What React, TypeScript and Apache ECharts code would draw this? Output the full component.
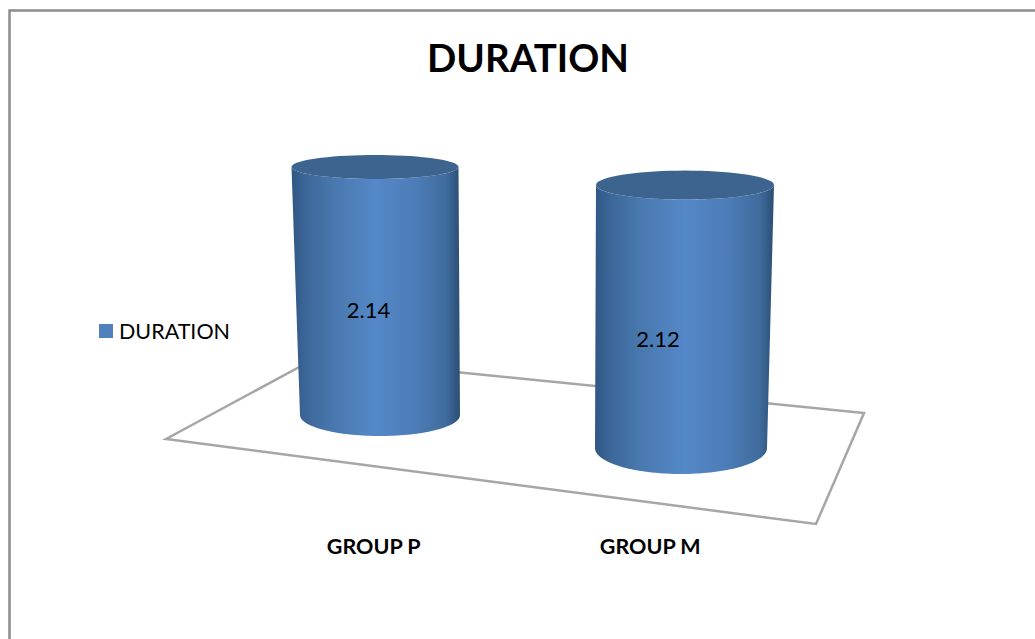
import React, { useEffect, useRef } from "react";
import * as echarts from "echarts";

const categories = ["GROUP P", "GROUP M"];
const durationValues = [2.14, 2.12];
const seriesName = "DURATION";
const chartTitle = "DURATION";

const WIDTH = 1035;
const HEIGHT = 639;
const FONT = "Lato, 'Open Sans', sans-serif";

// Hand-tuned pseudo-3D projection: the floor recedes from the axis labels.
const GROUND_X_SCALE = 301 / 276.5;
const GROUND_X_OFFSET = 6.25;
const GROUND_LIFT = 120;
const GROUND_TILT = 33 / 276.5;
const depthScale = [1, 1.07];
const baseRx = [80, 86];
const baseRy = [21, 26];
const topRx = [83.5, 89];
const topRy = [12, 14.5];
const topShiftX = [-5, 4];
const labelShift = [
  [-9, 19],
  [-25, 22],
];

const floorOutline = [
  [166, 439],
  [316, 358],
  [864, 413],
  [816, 524],
];
const frameOutline = [
  [9.5, 639],
  [9.5, 10.5],
  [1035, 10.5],
];

function ellipsePoints(cx: number, cy: number, rx: number, ry: number, from: number, to: number, n = 72) {
  const pts: number[][] = [];
  for (let k = 0; k <= n; k++) {
    const a = from + ((to - from) * k) / n;
    pts.push([cx + rx * Math.cos(a), cy + ry * Math.sin(a)]);
  }
  return pts;
}

function renderCylinder(params: any, api: any) {
  const i = api.value(0);
  const value = api.value(1);
  const origin = api.coord([0, 0]);
  const zero = api.coord([i, 0]);
  const atValue = api.coord([i, value]);

  const baseX = origin[0] + (zero[0] - origin[0]) * GROUND_X_SCALE + GROUND_X_OFFSET;
  const baseY = zero[1] - GROUND_LIFT + (zero[0] - origin[0]) * GROUND_TILT;
  const topX = baseX + topShiftX[i];
  const topY = baseY - (zero[1] - atValue[1]) * depthScale[i];

  const body = [
    [topX - topRx[i], topY],
    ...ellipsePoints(baseX, baseY, baseRx[i], baseRy[i], Math.PI, 0),
    [topX + topRx[i], topY],
    ...ellipsePoints(topX, topY, topRx[i], topRy[i], 0, Math.PI),
  ];
  const cap = ellipsePoints(topX, topY, topRx[i], topRy[i], 0, Math.PI * 2);

  return {
    type: "group",
    children: [
      {
        type: "polygon",
        shape: { points: body },
        style: {
          fill: new echarts.graphic.LinearGradient(0, 0, 1, 0, [
            { offset: 0, color: "#2f5784" },
            { offset: 0.08, color: "#3c6698" },
            { offset: 0.25, color: "#4878ae" },
            { offset: 0.5, color: "#5588c8" },
            { offset: 0.75, color: "#4c7cb6" },
            { offset: 0.92, color: "#3f6b9d" },
            { offset: 1, color: "#2b4e74" },
          ]),
        },
      },
      {
        type: "polygon",
        shape: { points: cap },
        style: { fill: "#3d648f" },
      },
      {
        type: "text",
        style: {
          text: value.toFixed(2),
          x: (topX + baseX) / 2 + labelShift[i][0],
          y: (topY + baseY) / 2 + labelShift[i][1],
          align: "center",
          verticalAlign: "middle",
          fontFamily: FONT,
          fontSize: 22,
          fill: "#000",
        },
      },
    ],
  };
}

export default function App() {
  const ref = useRef<HTMLDivElement>(null);

  useEffect(() => {
    const chart = echarts.init(ref.current!, null, { renderer: "svg" });
    chart.setOption({
      animation: false,
      backgroundColor: "#fff",
      title: {
        text: chartTitle,
        left: 523,
        top: 32,
        textAlign: "center",
        textStyle: { fontFamily: FONT, fontSize: 38.5, fontWeight: "bold", color: "#000" },
      },
      legend: {
        data: [seriesName],
        orient: "vertical",
        left: 94,
        top: 315,
        itemWidth: 14,
        itemHeight: 14,
        itemGap: 0,
        icon: "rect",
        textStyle: { fontFamily: FONT, fontSize: 21.5, color: "#000", padding: [0, 0, 0, 1] },
      },
      grid: { left: 235.5, width: 553, top: 71.4, height: 463.6 },
      xAxis: {
        type: "category",
        data: categories,
        axisLine: { show: false },
        axisTick: { show: false },
        axisLabel: { fontFamily: FONT, fontSize: 21.5, fontWeight: "bold", color: "#000", margin: 0 },
      },
      yAxis: { type: "value", min: 0, max: 4, show: false, splitLine: { show: false } },
      graphic: [
        {
          type: "polyline",
          shape: { points: frameOutline },
          style: { stroke: "#8c8c8c", lineWidth: 2.5, fill: "none" },
        },
        {
          type: "polygon",
          shape: { points: floorOutline },
          style: { stroke: "#a6a6a6", lineWidth: 2.5, fill: "none" },
        },
      ],
      series: [
        {
          type: "custom",
          name: seriesName,
          coordinateSystem: "cartesian2d",
          clip: false,
          itemStyle: { color: "#4f81bd" },
          encode: { x: 0, y: 1 },
          data: durationValues.map((v, i) => [i, v]),
          renderItem: renderCylinder,
        },
      ],
    });
    return () => chart.dispose();
  }, []);

  return <div ref={ref} style={{ position: "fixed", left: 0, top: 0, width: WIDTH, height: HEIGHT }} />;
}
